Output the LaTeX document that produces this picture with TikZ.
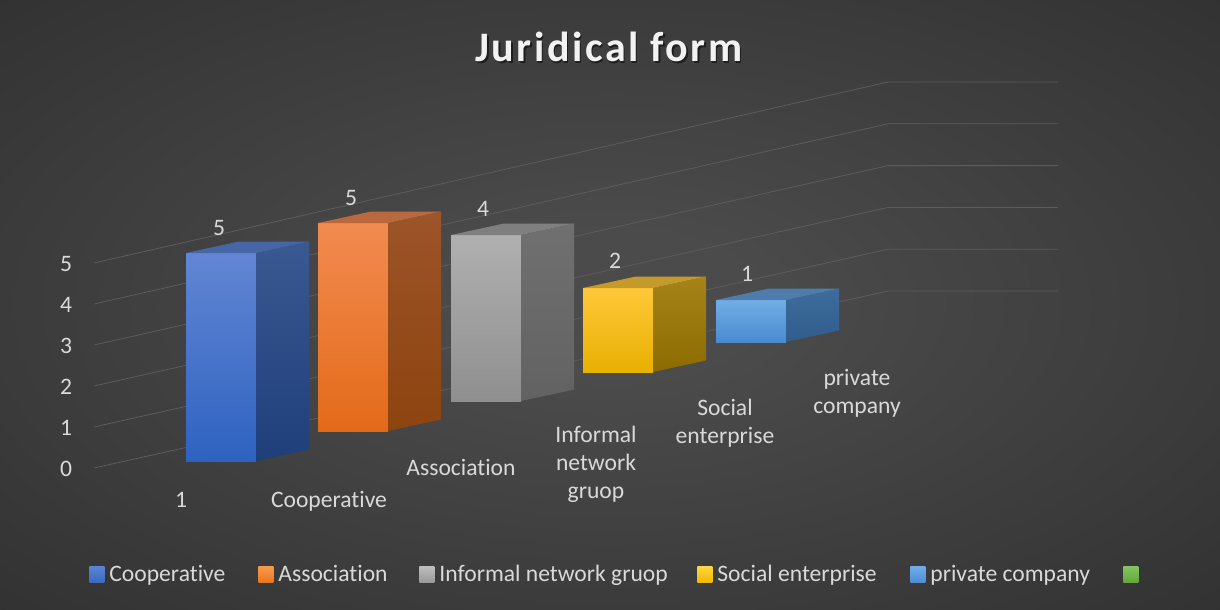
\documentclass[tikz,border=0pt]{standalone}
\usepackage{fontspec}
\setmainfont[Ligatures=NoCommon]{Carlito}
\newfontfamily\titlefont[LetterSpace=6.0]{Carlito}
\usetikzlibrary{positioning}

\definecolor{bgin}{HTML}{4B4B4B}
\definecolor{bgout}{HTML}{262626}
\definecolor{gridgray}{HTML}{5C5C5C}
\definecolor{labelgray}{HTML}{D9D9D9}
% column faces: front top, front bottom, side top, side bottom, lid
\definecolor{coopF}{HTML}{6286D4}\definecolor{coopB}{HTML}{2E62C0}\definecolor{coopS}{HTML}{3A5891}\definecolor{coopD}{HTML}{1F3F7B}\definecolor{coopL}{HTML}{4766A8}
\definecolor{assoF}{HTML}{F28B50}\definecolor{assoB}{HTML}{E36A19}\definecolor{assoS}{HTML}{9C5429}\definecolor{assoD}{HTML}{8E440F}\definecolor{assoL}{HTML}{B9693D}
\definecolor{infoF}{HTML}{B0B0B0}\definecolor{infoB}{HTML}{8F8F8F}\definecolor{infoS}{HTML}{707070}\definecolor{infoD}{HTML}{626262}\definecolor{infoL}{HTML}{7F7F7F}
\definecolor{sociF}{HTML}{FFC83A}\definecolor{sociB}{HTML}{E8B000}\definecolor{sociS}{HTML}{A68318}\definecolor{sociD}{HTML}{8B6C00}\definecolor{sociL}{HTML}{C49A2A}
\definecolor{privF}{HTML}{72AEE6}\definecolor{privB}{HTML}{4A8BD0}\definecolor{privS}{HTML}{3E6C9C}\definecolor{privD}{HTML}{305D8C}\definecolor{privL}{HTML}{4E7CAD}
% legend keys
\definecolor{key1a}{HTML}{5A85D6}\definecolor{key1b}{HTML}{3C68BF}
\definecolor{key2a}{HTML}{F79A4E}\definecolor{key2b}{HTML}{E8761F}
\definecolor{key3a}{HTML}{BDBDBD}\definecolor{key3b}{HTML}{9A9A9A}
\definecolor{key4a}{HTML}{FFD640}\definecolor{key4b}{HTML}{F2B800}
\definecolor{key5a}{HTML}{72ACEA}\definecolor{key5b}{HTML}{4D8CD6}
\definecolor{key6a}{HTML}{84C45E}\definecolor{key6b}{HTML}{62A83D}

\pgfdeclareradialshading{chartglow}{\pgfpoint{0bp}{0bp}}{color(0bp)=(bgin); color(6bp)=(bgin); color(50bp)=(bgout)}

% one 3-d column: x, bottom, top, colour prefix
\newcommand{\drawcolumn}[4]{%
  \shade[top color=#4F, bottom color=#4B] (#1,#3) rectangle (#1+70,#2);
  \shade[top color=#4S, bottom color=#4D] (#1+70,#3) -- ++(53,-11.5) -- (#1+123,#2-11.5) -- (#1+70,#2) -- cycle;
  \fill[#4L] (#1,#3) -- ++(53,-11.5) -- ++(70,0) -- (#1+70,#3) -- cycle;
}

\tikzset{
  gridline/.style = {gridgray, line width=0.4pt},
  axislabel/.style = {text=labelgray, inner sep=0pt, font=\fontsize{11.8}{14}\selectfont},
  catlabel/.style = {axislabel, align=center},
  legendtext/.style = {axislabel, anchor=base west},
  legendkey/.style = {minimum width=7.5pt, minimum height=8pt, inner sep=0pt, anchor=north west},
  titletext/.style = {inner sep=0pt, anchor=base, font=\titlefont\bfseries\fontsize{21}{25}\selectfont}
}

\begin{document}
\begin{tikzpicture}[x=0.5pt, y=-0.5pt]
  \useasboundingbox (0,0) rectangle (1220,610);
  \shade[shading=chartglow] (0,0) rectangle (1220,610);

  % title
  \node[titletext, text=black, opacity=.5] (titleshadow) at (610.5,63.5) {Juridical form};
  \node[titletext, text=white!95!black] (title) at (609,62) {Juridical form};

  % grid and value axis
  \foreach \v in {0,...,5} {
    \draw[gridline] (94,468-41*\v) -- (888,291-41.8*\v) -- (1058,291-41.8*\v);
    \node[axislabel] (ytick\v) at (66,469-41*\v) {\v};
  }

  % columns
  \drawcolumn{186}{461}{253}{coop}
  \drawcolumn{318}{431}{223}{asso}
  \drawcolumn{451}{401}{235}{info}
  \drawcolumn{583}{372}{288}{soci}
  \drawcolumn{716}{342}{300}{priv}

  % data labels
  \node[axislabel, anchor=base] (val1) at (219,235) {5};
  \node[axislabel, anchor=base] (val2) at (351,205) {5};
  \node[axislabel, anchor=base] (val3) at (483,216) {4};
  \node[axislabel, anchor=base] (val4) at (615,268) {2};
  \node[axislabel, anchor=base] (val5) at (747,281) {1};

  % category labels
  \node[axislabel, anchor=base] (cat0) at (181,507) {1};
  \node[axislabel, anchor=base] (cat1) at (329,507) {Cooperative};
  \node[axislabel, anchor=base] (cat2) at (461,475) {Association};
  \node[catlabel] (cat3) at (596,464) {Informal\\network\\gruop};
  \node[catlabel] (cat4) at (725,423) {Social\\enterprise};
  \node[catlabel] (cat5) at (857,393) {private\\company};

  % legend
  \foreach \kx/\kname [count=\i] in {89/Cooperative, 258/Association, 419/Informal network gruop,
      697/Social enterprise, 910/private company, 1123/} {
    \node[legendkey, top color=key\i a, bottom color=key\i b] (key\i) at (\kx,566) {};
    \node[legendtext] (legtext\i) at (\kx+20,581) {\kname};
  }
\end{tikzpicture}
\end{document}
